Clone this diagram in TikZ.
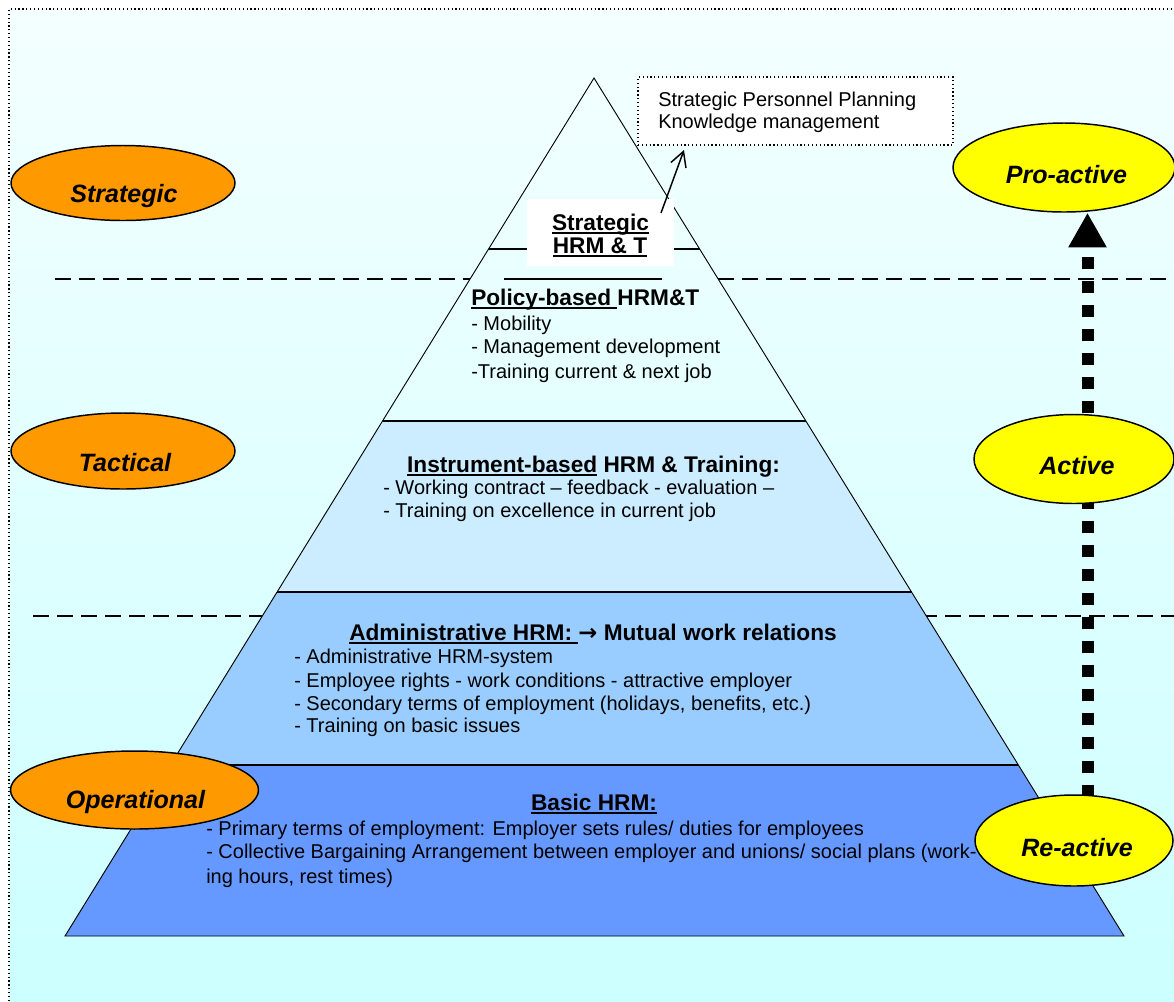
\documentclass[tikz,border=0pt]{standalone}
\usepackage{fontspec}
\setmainfont{Liberation Sans}
\newfontfamily\symfont{DejaVu Sans}
\usetikzlibrary{shapes.geometric,arrows.meta}
\definecolor{bgtop}{HTML}{F4FFFF}
\definecolor{bgbot}{HTML}{CCFFFF}
\definecolor{layA}{HTML}{6699FF}
\definecolor{layB}{HTML}{99CCFF}
\definecolor{layC}{HTML}{CCECFF}
\definecolor{orng}{HTML}{FF9900}
\definecolor{yelw}{HTML}{FFFF00}
\newcommand\ulx[1]{\sbox0{#1}\rlap{\rule[-3pt]{\wd0}{1.4pt}}\usebox0}
\begin{document}
\begin{tikzpicture}[x=0.75pt,y=-0.75pt,
  ell/.style={ellipse,draw,line width=1.1pt,inner sep=0pt},
  lbl/.style={font=\fontsize{18.8}{22}\selectfont\bfseries\itshape,anchor=base,inner sep=0pt},
  body/.style={font=\fontsize{15}{17}\selectfont,anchor=base west,inner sep=0pt},
  ttl/.style={font=\fontsize{17}{20}\selectfont\bfseries,inner sep=0pt},
  levelline/.style={dash pattern=on 12pt off 6pt,line width=1.5pt},
  edge/.style={line width=0.7pt},
  divline/.style={line width=1.6pt}]
\useasboundingbox (0,0) rectangle (1174,1001);
% background
\shade[top color=bgtop,bottom color=bgbot] (9,9) rectangle (1174,1001);
\draw[dotted,line width=0.9pt] (9,1001) -- (9,9) -- (1174,9);
% level dashed lines
\draw[levelline] (55,279) -- (470,279);
\draw[levelline] (718,279) -- (1174,279);
\draw[levelline] (33,616) -- (1174,616);
% pyramid layers
\coordinate (A) at (594,78);
\coordinate (L) at (65,936);
\coordinate (R) at (1124,936);
\fill[layA] (170.4,765) -- (1018.4,765) -- (R) -- (L) -- cycle;
\fill[layB] (277.1,592) -- (911.5,592) -- (1018.4,765) -- (170.4,765) -- cycle;
\fill[layC] (382.5,421) -- (805.9,421) -- (911.5,592) -- (277.1,592) -- cycle;
\draw[edge] (A) -- (L) -- (R) -- cycle;
\draw[divline] (170.4,765) -- (1018.4,765);
\draw[divline] (277.1,592) -- (911.5,592);
\draw[divline] (382.5,421) -- (805.9,421);
\draw[line width=1.4pt] (488.6,249) -- (699.6,249);
\draw[line width=1.5pt] (504,279) -- (662,279);
% strategic top box
\node[fill=white,minimum width=110.25pt,minimum height=50.25pt,inner sep=0pt] (stratbox) at (600.5,232.5) {};
\node[ttl,anchor=base] (st1) at (600.5,230) {\ulx{Strategic}};
\node[ttl,anchor=base] (st2) at (600,253) {\ulx{HRM \& T}};
% policy-based
\node[ttl,anchor=base west] (pbt) at (471,305) {\ulx{Policy-based\ }HRM\&T};
\node[body] (pb1) at (471,330) {- Mobility};
\node[body] (pb2) at (471,353) {- Management development};
\node[body] (pb3) at (471,378) {-Training current \& next job};
% instrument-based
\node[ttl,anchor=base] (ibt) at (593.5,472) {\ulx{Instrument-based} HRM \& Training:};
\node[body] (ib1) at (383,494) {- Working contract – feedback - evaluation –};
\node[body] (ib2) at (383,517) {- Training on excellence in current job};
% administrative
\node[ttl,anchor=base] (adt) at (593,640) {\ulx{Administrative HRM:\ }{\symfont\bfseries →} Mutual work relations};
\node[body] (ad1) at (294,663) {- Administrative HRM-system};
\node[body] (ad2) at (294,687) {- Employee rights - work conditions - attractive employer};
\node[body] (ad3) at (294,710) {- Secondary terms of employment (holidays, benefits, etc.)};
\node[body] (ad4) at (294,732) {- Training on basic issues};
% basic
\node[ttl,anchor=base] (bat) at (594,810) {\ulx{Basic HRM:}};
\node[body] (ba1) at (206,835) {- Primary terms of employment: Employer sets rules/ duties for employees};
\node[body] (ba2) at (206,858) {- Collective Bargaining Arrangement between employer and unions/ social plans (work-};
\node[body] (ba3) at (206,883) {ing hours, rest times)};
% strategic personnel planning box
\node[draw,dotted,line width=0.9pt,fill=white,minimum width=236.25pt,minimum height=51pt,inner sep=0pt] (spp) at (795.5,111) {};
\node[body] (spp1) at (658,106) {Strategic Personnel Planning};
\node[body] (spp2) at (658,128) {Knowledge management};
\coordinate (sa) at (661,213);
\coordinate (sb) at (684,150);
\draw[line width=1.1pt,-{Straight Barb[length=11pt,width=12pt]}] (sa) -- (sb);
% right ellipses and arrow
\node[ell,fill=yelw,minimum width=166.5pt,minimum height=66.75pt] (proact) at (1064,167.5) {};
\coordinate (ax) at (1087.5,500);
\coordinate (reTop) at (1087.5,797);
\draw[line width=9pt,dash pattern=on 9pt off 9pt,-{Triangle[length=26pt,width=27pt]}] (reTop) -- (ax |- proact.south);
\node[ell,fill=yelw,minimum width=150pt,minimum height=66.75pt] (act) at (1074,459) {};
\node[ell,fill=yelw,minimum width=148.5pt,minimum height=68.25pt] (react) at (1074,840.5) {};
\node[lbl] (proactT) at (1066.5,183) {Pro-active};
\node[lbl] (actT) at (1077,474) {Active};
\node[lbl] (reactT) at (1077,856) {Re-active};
% left ellipses
\node[ell,fill=orng,minimum width=168pt,minimum height=56.25pt] (strat) at (123,183) {};
\node[ell,fill=orng,minimum width=168pt,minimum height=57pt] (tact) at (123,451) {};
\node[ell,fill=orng,minimum width=186pt,minimum height=58.5pt] (oper) at (134.5,790) {};
\node[lbl] (stratT) at (124,202) {Strategic};
\node[lbl] (tactT) at (125,471) {Tactical};
\node[lbl] (operT) at (135.5,808) {Operational};
\end{tikzpicture}
\end{document}
